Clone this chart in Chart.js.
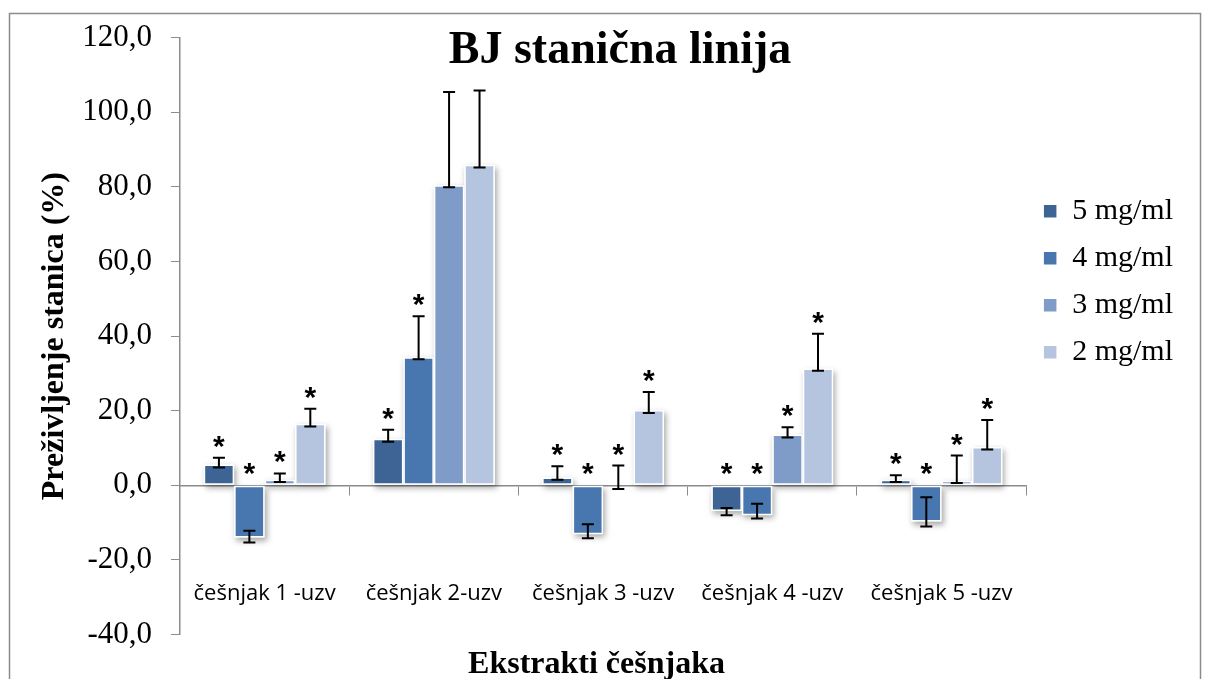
<!DOCTYPE html>
<html>
<head>
<meta charset="utf-8">
<title>BJ stanična linija</title>
<script src="https://cdn.jsdelivr.net/npm/chart.js@4.4.1/dist/chart.umd.min.js"></script>
<style>
  html, body { margin: 0; padding: 0; background: #fff; }
  #wrap { position: relative; width: 1207px; height: 679px; }
</style>
</head>
<body>
<div id="wrap"><canvas id="chart"></canvas></div>
<script>
// podaci očitani sa slike
const categories = ['češnjak 1 -uzv', 'češnjak 2-uzv', 'češnjak 3 -uzv', 'češnjak 4 -uzv', 'češnjak 5 -uzv'];
const seriesNames = ['5 mg/ml', '4 mg/ml', '3 mg/ml', '2 mg/ml'];
const yTicks = [-40, -20, 0, 20, 40, 60, 80, 100, 120];

// preživljenje (%)
const val5 = [5.6, 12.5, 2.1, -6.9, 1.5];
const val4 = [-14.0, 34.3, -13.1, -8.0, -9.7];
const val3 = [1.5, 80.4, 0.2, 13.6, 1.2];
const val2 = [16.5, 85.9, 20.2, 31.3, 10.3];

// greške: gornji i donji krak
const errHi5 = [1.8, 2.4, 3.0, 0.8, 1.2];
const errLo5 = [0.8, 0.8, 0.6, 1.1, 0.6];
const errHi4 = [1.8, 11.0, 2.7, 3.1, 6.5];
const errLo4 = [1.3, 0.5, 1.1, 0.9, 1.3];
const errHi3 = [1.7, 25.0, 5.1, 2.0, 6.8];
const errLo3 = [0.6, 0.5, 1.2, 0.8, 0.6];
const errHi2 = [4.0, 19.9, 4.8, 9.3, 7.2];
const errLo2 = [0.7, 0.7, 0.8, 0.6, 0.7];

// statistička značajnost (*)
const sig5 = [true, true, true, true, true];
const sig4 = [true, true, true, true, true];
const sig3 = [true, false, true, true, true];
const sig2 = [true, false, true, true, true];

const colors = ['#3d6494', '#4877b0', '#7f9bc7', '#b5c4df'];

const values = [val5, val4, val3, val2];
const errHi = [errHi5, errHi4, errHi3, errHi2];
const errLo = [errLo5, errLo4, errLo3, errLo2];
const sig = [sig5, sig4, sig3, sig2];

Chart.defaults.font.family = '"Liberation Serif", "Times New Roman", serif';
Chart.defaults.color = '#000';

// okvir oko cijelog grafikona
const framePlugin = {
  id: 'frame',
  beforeDraw(chart) {
    const ctx = chart.ctx;
    ctx.save();
    ctx.fillStyle = '#fff';
    ctx.fillRect(0, 0, chart.width, chart.height);
    ctx.strokeStyle = '#8c8c8c';
    ctx.lineWidth = 1.5;
    ctx.strokeRect(9.5, 13.5, 1191, 700);
    ctx.restore();
  }
};

// sjena ispod stupaca
const shadowPlugin = {
  id: 'barShadow',
  beforeDatasetsDraw(chart) {
    const ctx = chart.ctx;
    ctx.save();
    ctx.shadowColor = 'rgba(0,0,0,0.35)';
    ctx.shadowBlur = 6;
    ctx.shadowOffsetX = 2;
    ctx.shadowOffsetY = 3;
    ctx.fillStyle = '#fff';
    chart.data.datasets.forEach((ds, i) => {
      chart.getDatasetMeta(i).data.forEach(el => {
        const top = Math.min(el.y, el.base);
        const h = Math.abs(el.y - el.base);
        ctx.fillRect(el.x - el.width / 2, top, el.width, h);
      });
    });
    ctx.restore();
  }
};

// error barovi i zvjezdice
const errorPlugin = {
  id: 'errorBars',
  afterDatasetsDraw(chart) {
    const ctx = chart.ctx;
    const y = chart.scales.y;
    ctx.save();
    ctx.strokeStyle = '#000';
    ctx.lineWidth = 2;
    chart.data.datasets.forEach((ds, i) => {
      chart.getDatasetMeta(i).data.forEach((el, j) => {
        const v = values[i][j];
        const yHi = y.getPixelForValue(v + errHi[i][j]);
        const yLo = y.getPixelForValue(v - errLo[i][j]);
        ctx.beginPath();
        ctx.moveTo(el.x, yHi); ctx.lineTo(el.x, yLo);
        ctx.moveTo(el.x - 6, yHi); ctx.lineTo(el.x + 6, yHi);
        ctx.moveTo(el.x - 6, yLo); ctx.lineTo(el.x + 6, yLo);
        ctx.stroke();
        if (sig[i][j]) {
          const top = y.getPixelForValue(Math.max(0, v + errHi[i][j]));
          const cy = top - 19;
          ctx.font = 'bold 30px "Liberation Sans", Arial, sans-serif';
          ctx.fillStyle = '#000';
          ctx.textAlign = 'center';
          ctx.textBaseline = 'alphabetic';
          ctx.fillText('*', el.x, cy + 17);
        }
      });
    });
    ctx.restore();
  }
};

// naslov preko područja grafa
const titlePlugin = {
  id: 'mainTitle',
  afterDraw(chart) {
    const ctx = chart.ctx;
    ctx.save();
    ctx.font = 'bold 46px "Liberation Serif", "Times New Roman", serif';
    ctx.fillStyle = '#000';
    ctx.textAlign = 'center';
    ctx.textBaseline = 'alphabetic';
    ctx.fillText('BJ stanična linija', 620, 63);
    ctx.restore();
  }
};

const datasets = seriesNames.map((name, i) => ({
  label: name,
  data: values[i],
  backgroundColor: colors[i],
  borderColor: '#fff',
  borderWidth: 1.5,
  borderSkipped: false,
  categoryPercentage: 0.72,
  barPercentage: 1.0
}));

new Chart(document.getElementById('chart'), {
  type: 'bar',
  data: { labels: categories, datasets },
  options: {
    responsive: true,
    maintainAspectRatio: false,
    animation: false,
    layout: { padding: { left: 10, top: 32, right: 24, bottom: 0 } },
    plugins: {
      tooltip: { enabled: false },
      // naslov x osi ispod grafa
      title: {
        display: true,
        position: 'bottom',
        text: 'Ekstrakti češnjaka',
        font: { size: 32, weight: 'bold' },
        padding: { top: 11, bottom: -5 },
        color: '#000'
      },
      legend: {
        position: 'right',
        align: 'start',
        title: { display: true, text: '', font: { size: 1 }, padding: { top: 146, bottom: 0 } },
        labels: {
          boxWidth: 14,
          boxHeight: 14,
          padding: 17,
          font: { size: 30 },
          color: '#000'
        }
      }
    },
    scales: {
      x: {
        position: { y: 0 },
        grid: { display: true, drawOnChartArea: false, drawTicks: true, tickLength: 9, color: '#8c8c8c' },
        border: { display: true, color: '#8c8c8c', width: 1.5 },
        ticks: {
          padding: 86,
          maxRotation: 0,
          autoSkip: false,
          font: { family: '"Open Sans", "Liberation Sans", sans-serif', size: 22 },
          color: '#000'
        }
      },
      y: {
        min: yTicks[0],
        max: yTicks[yTicks.length - 1],
        afterFit(scale) { scale.width = 170; },
        grid: { display: true, drawOnChartArea: false, drawTicks: true, tickLength: 9, color: '#8c8c8c' },
        border: { display: true, color: '#8c8c8c', width: 1.5 },
        ticks: {
          stepSize: yTicks[1] - yTicks[0],
          padding: 19,
          font: { size: 31 },
          color: '#000',
          callback: v => v.toFixed(1).replace('.', ',')
        },
        title: {
          display: true,
          text: 'Preživljenje stanica (%)',
          font: { size: 32, weight: 'bold' },
          padding: { top: 26, bottom: 0 },
          color: '#000'
        }
      }
    }
  },
  plugins: [framePlugin, shadowPlugin, errorPlugin, titlePlugin]
});
</script>
</body>
</html>
